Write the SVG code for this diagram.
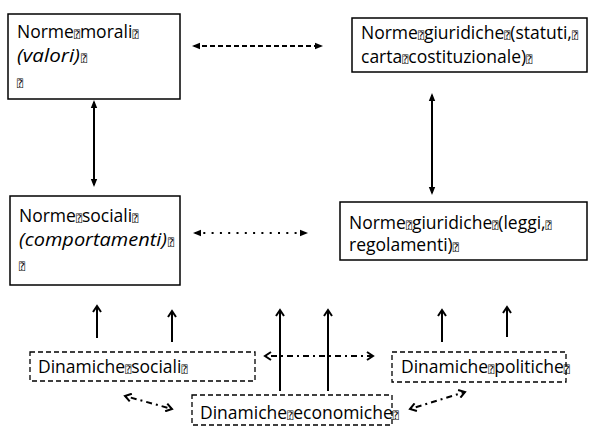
<svg xmlns="http://www.w3.org/2000/svg" width="593" height="426" viewBox="0 0 593 426">
  <style>
    .box { fill: #ffffff; stroke: #000000; stroke-width: 1.5; }
    .dbox { fill: #ffffff; stroke: #000000; stroke-width: 1.3; stroke-dasharray: 5 3; }
    .t { font-family: "Open Sans", "Liberation Sans", sans-serif; font-size: 17.5px; fill: #000000; }
    .i { font-style: italic; }
    .q { font-family: "DejaVu Sans Mono", "DejaVu Sans", monospace; font-size: 10px; font-style: normal; }
    .ln { fill: none; stroke: #000000; stroke-width: 2; }
    .dash { stroke-dasharray: 5 3; }
    .dot { stroke-dasharray: 2 6.3; }
    .dashdot { stroke-dasharray: 2 4 6 4; }
  </style>
  <defs>
    <marker id="tri" viewBox="0 0 8 8" refX="6" refY="4" markerWidth="8" markerHeight="8" markerUnits="userSpaceOnUse" orient="auto-start-reverse">
      <path d="M0,0.8 L8,4 L0,7.2 Z" fill="#000000"/>
    </marker>
    <marker id="chev" viewBox="0 0 10 10" refX="8" refY="5" markerWidth="10" markerHeight="10" markerUnits="userSpaceOnUse" orient="auto-start-reverse">
      <path d="M2,1 L8,5 L2,9" fill="none" stroke="#000000" stroke-width="2"/>
    </marker>
  </defs>

  <g id="connectors">
    <line class="ln dash" x1="194" y1="46" x2="321" y2="46" marker-start="url(#tri)" marker-end="url(#tri)"/>
    <line class="ln dot" x1="195" y1="233" x2="306" y2="233" marker-start="url(#tri)" marker-end="url(#tri)"/>
    <line class="ln" x1="94" y1="102" x2="94" y2="185" marker-start="url(#tri)" marker-end="url(#tri)"/>
    <line class="ln" x1="432" y1="95" x2="432" y2="193" marker-start="url(#tri)" marker-end="url(#tri)"/>
    <line class="ln" x1="97" y1="338" x2="97" y2="306" marker-end="url(#chev)"/>
    <line class="ln" x1="172" y1="342" x2="172" y2="311" marker-end="url(#chev)"/>
    <line class="ln" x1="280" y1="391" x2="280" y2="310" marker-end="url(#chev)"/>
    <line class="ln" x1="328" y1="391" x2="328" y2="310" marker-end="url(#chev)"/>
    <line class="ln" x1="442" y1="342" x2="442" y2="310" marker-end="url(#chev)"/>
    <line class="ln" x1="507" y1="337" x2="507" y2="307" marker-end="url(#chev)"/>
    <line class="ln dashdot" x1="265" y1="356" x2="373" y2="356" marker-start="url(#chev)" marker-end="url(#chev)"/>
    <line class="ln dashdot" x1="125" y1="396" x2="172" y2="409" marker-start="url(#chev)" marker-end="url(#chev)"/>
    <line class="ln dashdot" x1="410" y1="409" x2="465" y2="392" marker-start="url(#chev)" marker-end="url(#chev)"/>
  </g>

  <g id="norme-morali">
    <rect class="box" x="8" y="14" width="172" height="85"/>
    <text class="t" x="17" y="38">Norme<tspan class="q">⍰</tspan>morali<tspan class="q">⍰</tspan></text>
    <text class="t i" x="17" y="62" textLength="63" lengthAdjust="spacingAndGlyphs">(valori)</text>
    <text class="t" x="81" y="62"><tspan class="q">⍰</tspan></text>
    <text class="t" x="17" y="87"><tspan class="q">⍰</tspan></text>
  </g>

  <g id="norme-giuridiche-statuti">
    <rect class="box" x="352" y="18" width="235" height="54"/>
    <text class="t" x="361" y="39">Norme<tspan class="q">⍰</tspan>giuridiche<tspan class="q">⍰</tspan>(statuti,<tspan class="q">⍰</tspan></text>
    <text class="t" x="361" y="63">carta<tspan class="q">⍰</tspan>costituzionale)<tspan class="q">⍰</tspan></text>
  </g>

  <g id="norme-sociali">
    <rect class="box" x="10" y="196" width="170" height="89"/>
    <text class="t" x="19" y="222">Norme<tspan class="q">⍰</tspan>sociali<tspan class="q">⍰</tspan></text>
    <text class="t i" x="19" y="246" textLength="148" lengthAdjust="spacingAndGlyphs">(comportamenti)</text>
    <text class="t" x="168" y="246"><tspan class="q">⍰</tspan></text>
    <text class="t" x="19" y="270"><tspan class="q">⍰</tspan></text>
  </g>

  <g id="norme-giuridiche-leggi">
    <rect class="box" x="340" y="202" width="247" height="58"/>
    <text class="t" x="349" y="229">Norme<tspan class="q">⍰</tspan>giuridiche<tspan class="q">⍰</tspan>(leggi,<tspan class="q">⍰</tspan></text>
    <text class="t" x="349" y="251">regolamenti)<tspan class="q">⍰</tspan></text>
  </g>

  <g id="dinamiche-sociali">
    <rect class="dbox" x="30" y="352" width="225" height="29"/>
    <text class="t" x="38" y="373">Dinamiche<tspan class="q">⍰</tspan>sociali<tspan class="q">⍰</tspan></text>
  </g>

  <g id="dinamiche-politiche">
    <rect class="dbox" x="392" y="352" width="174" height="30"/>
    <text class="t" x="401" y="373">Dinamiche<tspan class="q">⍰</tspan>politiche<tspan class="q">⍰</tspan></text>
  </g>

  <g id="dinamiche-economiche">
    <rect class="dbox" x="192" y="395" width="200" height="30"/>
    <text class="t" x="200" y="419">Dinamiche<tspan class="q">⍰</tspan>economiche<tspan class="q">⍰</tspan></text>
  </g>
</svg>
